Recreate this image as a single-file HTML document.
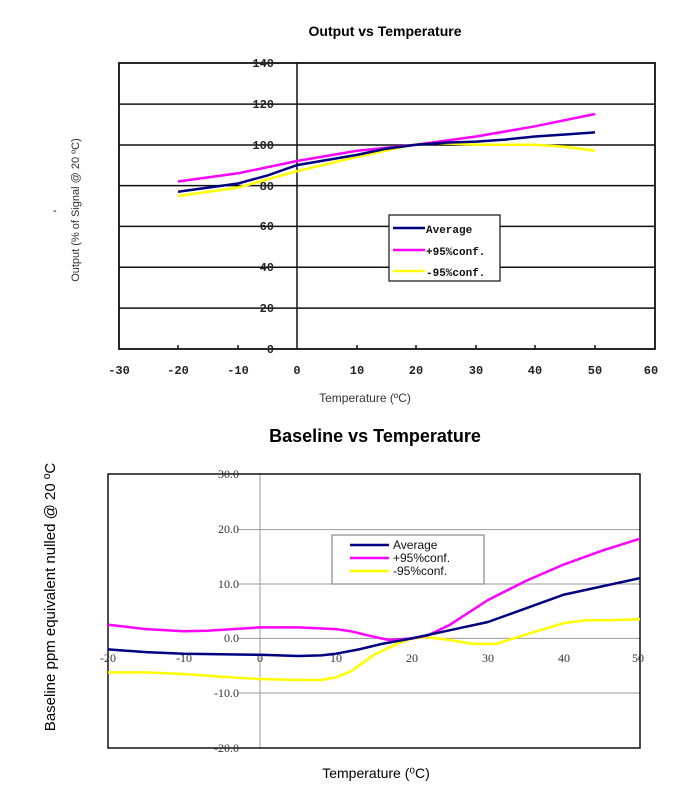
<!DOCTYPE html>
<html><head><meta charset="utf-8"><style>
body{margin:0;background:#fff;}
svg{display:block;}
</style></head><body>
<svg width="687" height="792" xmlns="http://www.w3.org/2000/svg">
<rect width="687" height="792" fill="#fff"/>
<!-- Chart 1 -->
<text x="385" y="36" font-family="Liberation Sans, sans-serif" font-size="14" font-weight="bold" text-anchor="middle">Output vs Temperature</text>
<text x="53" y="214" font-family="Liberation Sans, sans-serif" font-size="11">-</text>
<text transform="translate(79,210) rotate(-90)" font-family="Liberation Sans, sans-serif" font-size="11" text-anchor="middle" fill="#333">Output (% of Signal @ 20 ºC)</text>
<g stroke="#111" stroke-width="1.5">
<line x1="119" y1="104.1" x2="655" y2="104.1"/>
<line x1="119" y1="145" x2="655" y2="145"/>
<line x1="119" y1="185.6" x2="655" y2="185.6"/>
<line x1="119" y1="226.4" x2="655" y2="226.4"/>
<line x1="119" y1="267.3" x2="655" y2="267.3"/>
<line x1="119" y1="308.1" x2="655" y2="308.1"/>
</g>
<rect x="119" y="63" width="536" height="286" fill="none" stroke="#111" stroke-width="1.8"/>
<line x1="297" y1="63" x2="297" y2="349" stroke="#111" stroke-width="1.5"/>
<g stroke="#111" stroke-width="1.5">
<line x1="178" y1="345" x2="178" y2="349"/><line x1="238" y1="345" x2="238" y2="349"/><line x1="357" y1="345" x2="357" y2="349"/><line x1="416" y1="345" x2="416" y2="349"/><line x1="476" y1="345" x2="476" y2="349"/><line x1="535" y1="345" x2="535" y2="349"/><line x1="595" y1="345" x2="595" y2="349"/>
</g>
<g font-family="Liberation Mono, monospace" font-size="12" font-weight="bold" text-anchor="end" fill="#222">
<text x="274" y="67">140</text><text x="274" y="108">120</text><text x="274" y="149">100</text><text x="274" y="190">80</text><text x="274" y="230">60</text><text x="274" y="271">40</text><text x="274" y="312">20</text><text x="274" y="353">0</text>
</g>
<g font-family="Liberation Mono, monospace" font-size="12" font-weight="bold" text-anchor="middle" fill="#222">
<text x="119" y="374">-30</text><text x="178" y="374">-20</text><text x="238" y="374">-10</text><text x="297" y="374">0</text><text x="357" y="374">10</text><text x="416" y="374">20</text><text x="476" y="374">30</text><text x="535" y="374">40</text><text x="595" y="374">50</text><text x="651" y="374">60</text>
</g>
<text x="365" y="402" font-family="Liberation Sans, sans-serif" font-size="12" text-anchor="middle" fill="#333">Temperature (ºC)</text>
<g fill="none" stroke-width="2.5">
<polyline stroke="#ffff00" points="178,196 238,187.6 297,171.2 357,156.9 404,146.7 428,142.6 476,144.7 535,144.7 565,146.7 595,150.8"/>
<polyline stroke="#ff00ff" points="178,181.5 238,173.3 297,161 357,150.8 416,144.7 476,136.5 535,126.3 595,114"/>
<polyline stroke="#000080" points="178,191.7 238,183.5 268,175.3 297,165.1 357,154.9 386,148.7 416,144.7 446,142.6 476,141.6 505,139.6 535,136.5 565,134.5 595,132.4"/>
</g>
<rect x="389" y="215" width="111" height="66" fill="#fff" stroke="#111" stroke-width="1.2"/>
<line x1="393" y1="228" x2="425" y2="228" stroke="#000080" stroke-width="2.5"/>
<line x1="393" y1="250" x2="425" y2="250" stroke="#ff00ff" stroke-width="2.5"/>
<line x1="393" y1="271" x2="425" y2="271" stroke="#ffff00" stroke-width="2.5"/>
<g font-family="Liberation Mono, monospace" font-size="11" font-weight="bold" fill="#111">
<text x="426" y="233">Average</text><text x="426" y="255">+95%conf.</text><text x="426" y="276">-95%conf.</text>
</g>
<!-- Chart 2 -->
<text x="375" y="442" font-family="Liberation Sans, sans-serif" font-size="18" font-weight="bold" text-anchor="middle">Baseline vs Temperature</text>
<text transform="translate(55,597) rotate(-90)" font-family="Liberation Sans, sans-serif" font-size="15" text-anchor="middle">Baseline ppm equivalent nulled @ 20 ºC</text>
<g stroke="#999" stroke-width="1">
<line x1="238" y1="529.6" x2="640" y2="529.6"/>
<line x1="238" y1="584" x2="640" y2="584"/>
<line x1="238" y1="638.4" x2="640" y2="638.4"/>
<line x1="238" y1="693" x2="640" y2="693"/>
<line x1="260" y1="474" x2="260" y2="748"/>
</g>
<rect x="108" y="474" width="532" height="274" fill="none" stroke="#111" stroke-width="1.5"/>
<g font-family="Liberation Serif, serif" font-size="12" text-anchor="end" fill="#333">
<text x="239" y="478">30.0</text><text x="239" y="533">20.0</text><text x="239" y="588">10.0</text><text x="239" y="642">0.0</text><text x="239" y="697">-10.0</text><text x="239" y="752">-20.0</text>
</g>
<g font-family="Liberation Serif, serif" font-size="12" text-anchor="middle" fill="#333">
<text x="108" y="662">-20</text><text x="184" y="662">-10</text><text x="260" y="662">0</text><text x="336" y="662">10</text><text x="412" y="662">20</text><text x="488" y="662">30</text><text x="564" y="662">40</text><text x="638" y="662">50</text>
</g>
<text x="376" y="778" font-family="Liberation Sans, sans-serif" font-size="14" text-anchor="middle">Temperature (⁰C)</text>
<g fill="none" stroke-width="2.5" stroke-linejoin="round">
<polyline stroke="#ffff00" points="108,672.4 146,672.4 184,674 222,676.8 260,679 298,680 321,680 336,677.3 351,671.3 374,654.8 397,643.9 412,638.4 427,637.3 450,640 473,643.9 496,643.9 526,634.6 564,623 587,620.3 610,620.3 640,619.2"/>
<polyline stroke="#ff00ff" points="108,624.7 146,629.1 184,631.3 207,630.7 260,627.4 298,627.4 336,629.1 351,631.3 374,636.8 389,640 412,638.4 427,635.7 450,624.7 488,600 526,580.9 564,564.4 602,550.7 640,538.7"/>
<polyline stroke="#000080" points="108,649.4 146,652.1 184,653.7 260,654.8 298,656 321,655.4 336,653.7 359,649.4 382,643.9 412,638.4 450,630.2 488,622 526,608.3 564,594.6 602,586.4 640,578.1"/>
</g>
<rect x="332" y="535" width="152" height="49" fill="#fff" stroke="#888" stroke-width="1.2"/>
<line x1="350" y1="545" x2="389" y2="545" stroke="#000080" stroke-width="2.5"/>
<line x1="350" y1="558" x2="389" y2="558" stroke="#ff00ff" stroke-width="2.5"/>
<line x1="350" y1="571" x2="389" y2="571" stroke="#ffff00" stroke-width="2.5"/>
<g font-family="Liberation Sans, sans-serif" font-size="12" fill="#111">
<text x="393" y="549">Average</text><text x="393" y="562">+95%conf.</text><text x="393" y="575">-95%conf.</text>
</g>
</svg>
</body></html>
